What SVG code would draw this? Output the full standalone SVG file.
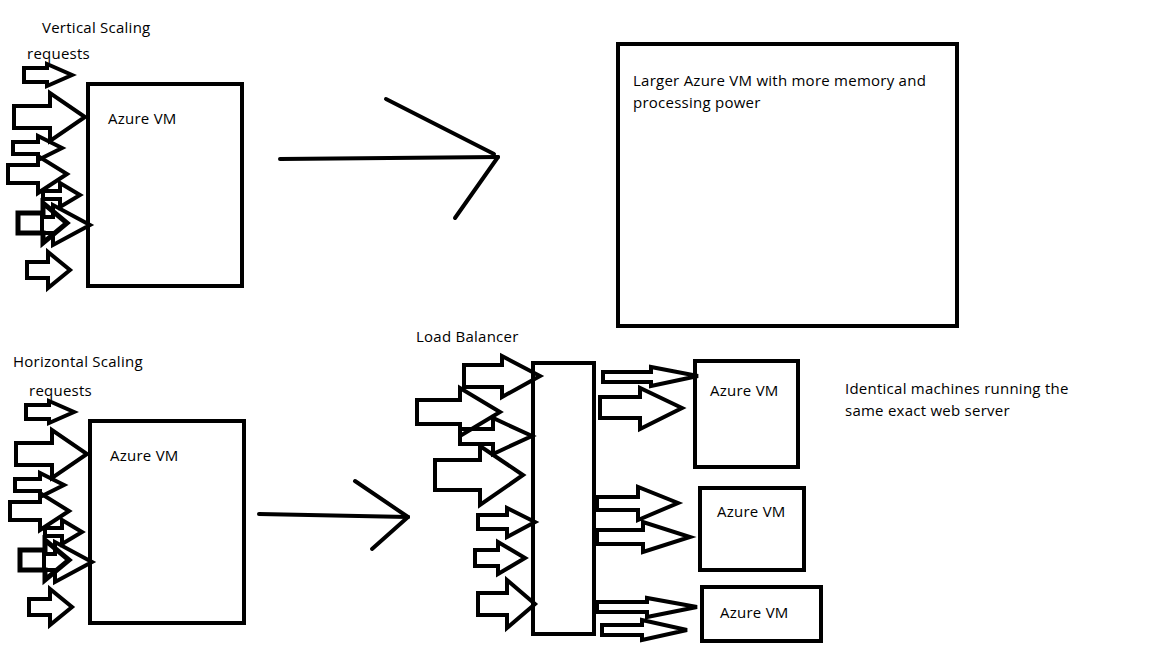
<svg xmlns="http://www.w3.org/2000/svg" width="1152" height="648" viewBox="0 0 1152 648">
<style>
.t{font-family:"Open Sans","Noto Sans","DejaVu Sans",sans-serif;font-size:15px;letter-spacing:0.25px;fill:#000}
.box{fill:none;stroke:#000;stroke-width:4}
.ba{fill:none;stroke:#000;stroke-width:4;stroke-linejoin:miter}
.ln{fill:none;stroke:#000;stroke-width:4;stroke-linecap:round}
</style>
<rect width="1152" height="648" fill="#fff"/>
<g id="labels">
<text class="t" x="42" y="33">Vertical Scaling</text>
<text class="t" x="27" y="59">requests</text>
<text class="t" x="13" y="367">Horizontal Scaling</text>
<text class="t" x="29" y="396">requests</text>
<text class="t" x="416" y="342">Load Balancer</text>
<text class="t" x="845" y="394">Identical machines running the</text>
<text class="t" x="845" y="416">same exact web server</text>
</g>
<g id="vm-top">
<rect class="box" x="88" y="84" width="154" height="202"/>
<text class="t" x="108" y="124">Azure VM</text>
</g>
<g id="vm-large">
<rect class="box" x="618" y="44" width="339" height="282"/>
<text class="t" x="633" y="86">Larger Azure VM with more memory and</text>
<text class="t" x="633" y="108">processing power</text>
</g>
<g id="vm-bottom">
<rect class="box" x="90" y="421" width="154" height="202"/>
<text class="t" x="110" y="461">Azure VM</text>
</g>
<g id="load-balancer">
<rect class="box" x="533" y="363" width="61" height="271"/>
</g>
<g id="vm-1">
<rect class="box" x="695" y="361" width="103" height="106"/>
<text class="t" x="710" y="396">Azure VM</text>
</g>
<g id="vm-2">
<rect class="box" x="700" y="488" width="104" height="82"/>
<text class="t" x="717" y="517">Azure VM</text>
</g>
<g id="vm-3">
<rect class="box" x="702" y="587" width="119" height="54"/>
<text class="t" x="720" y="618">Azure VM</text>
</g>
<g id="connectors">
<g id="requests-top">
<polygon class="ba" points="24,68 47,68 47,64 72,75 47,86 47,82 24,82"/>
<polygon class="ba" points="14,106 50,106 50,93 85,117 50,141 50,128 14,128"/>
<polygon class="ba" points="13,142 38,142 38,136 62,148 38,160 38,154 13,154"/>
<polygon class="ba" points="8,165 38,165 38,156 67,174 38,193 38,183 8,183"/>
<polygon class="ba" points="43,191 60,191 60,183 80,195 60,207 60,199 43,199"/>
<polygon class="ba" points="42,217 53,217 53,205 90,225 53,245 53,233 42,233"/>
<polygon class="ba" points="18,213 43,213 43,203 67,223 43,243 43,233 18,233" style="stroke-width:5"/>
<polygon class="ba" points="27,262 48,262 48,252 70,270 48,288 48,278 27,278"/>
</g>
<g id="requests-bottom" transform="translate(2,337)">
<polygon class="ba" points="24,68 47,68 47,64 72,75 47,86 47,82 24,82"/>
<polygon class="ba" points="14,106 50,106 50,93 85,117 50,141 50,128 14,128"/>
<polygon class="ba" points="13,142 38,142 38,136 62,148 38,160 38,154 13,154"/>
<polygon class="ba" points="8,165 38,165 38,156 67,174 38,193 38,183 8,183"/>
<polygon class="ba" points="43,191 60,191 60,183 80,195 60,207 60,199 43,199"/>
<polygon class="ba" points="42,217 53,217 53,205 90,225 53,245 53,233 42,233"/>
<polygon class="ba" points="18,213 43,213 43,203 67,223 43,243 43,233 18,233" style="stroke-width:5"/>
<polygon class="ba" points="27,262 48,262 48,252 70,270 48,288 48,278 27,278"/>
</g>
<g id="scale-up-arrow">
<line class="ln" x1="280" y1="159" x2="498" y2="157"/>
<line class="ln" x1="386" y1="99" x2="494" y2="154"/>
<line class="ln" x1="498" y1="157" x2="455" y2="218"/>
</g>
<g id="scale-out-arrow">
<line class="ln" x1="259" y1="514" x2="408" y2="517"/>
<line class="ln" x1="355" y1="481" x2="408" y2="517"/>
<line class="ln" x1="408" y1="517" x2="372" y2="549"/>
</g>
<g id="lb-in">
<polygon class="ba" points="464,365 502,365 502,356 540,376 502,397 502,387 464,387"/>
<polygon class="ba" points="417,400 460,400 460,388 500,412 460,436 460,424 417,424"/>
<polygon class="ba" points="460,429 493,429 493,418 532,436 493,454 493,444 460,444"/>
<polygon class="ba" points="435,460 480,460 480,446 523,475 480,505 480,490 435,490"/>
<polygon class="ba" points="478,515 507,515 507,508 535,522 507,537 507,529 478,529"/>
<polygon class="ba" points="475,550 498,550 498,542 525,558 498,574 498,566 475,566"/>
<polygon class="ba" points="478,593 507,593 507,580 535,604 507,628 507,615 478,615"/>
</g>
<g id="lb-out">
<polygon class="ba" points="603,372 651,372 651,367 698,376 651,386 651,382 603,382"/>
<polygon class="ba" points="600,397 640,397 640,388 682,408 640,429 640,418 600,418"/>
<polygon class="ba" points="597,497 638,497 638,487 678,503 638,520 638,510 597,510"/>
<polygon class="ba" points="597,530 643,530 643,522 690,537 643,552 643,544 597,544"/>
<polygon class="ba" points="597,602 647,602 647,598 697,607 647,617 647,612 597,612"/>
<polygon class="ba" points="602,625 642,625 642,620 687,630 642,640 642,635 602,635"/>
</g>
</g>
</svg>
